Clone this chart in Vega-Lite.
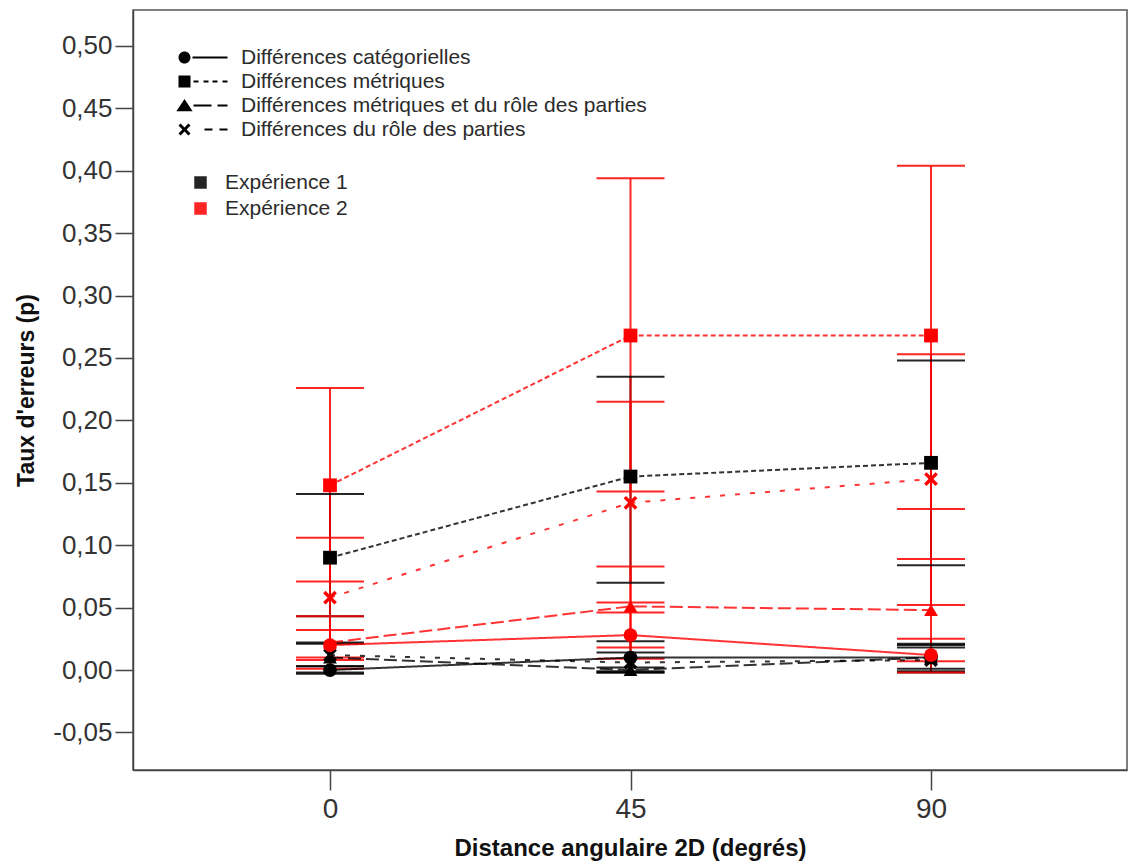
{
  "$schema": "https://vega.github.io/schema/vega-lite/v6.json",
  "width": 994,
  "height": 760,
  "autosize": {"type": "none"},
  "padding": {"left": 133, "top": 10, "right": 2, "bottom": 95},
  "background": "white",
  "config": {
    "font": "Liberation Sans",
    "view": {"stroke": "#555555", "strokeWidth": 1.5},
    "axis": {
      "grid": false,
      "domainColor": "#444444",
      "domainWidth": 1.5,
      "tickColor": "#444444",
      "tickWidth": 1.5,
      "labelColor": "#333333",
      "labelFont": "Liberation Sans",
      "titleFont": "Liberation Sans",
      "titleColor": "#111111",
      "titleFontWeight": "bold"
    },
    "legend": {
      "padding": 0,
      "labelFont": "Liberation Sans",
      "labelFontSize": 21,
      "labelColor": "#2b2b2b",
      "labelLimit": 600
    }
  },
  "data": {
    "values": [
      {"exp": "Expérience 1", "cond": "Différences catégorielles", "angle": 0, "p": 0.000, "lo": -0.003, "hi": 0.003},
      {"exp": "Expérience 1", "cond": "Différences catégorielles", "angle": 45, "p": 0.010, "lo": -0.002, "hi": 0.023},
      {"exp": "Expérience 1", "cond": "Différences catégorielles", "angle": 90, "p": 0.010, "lo": 0.001, "hi": 0.020},
      {"exp": "Expérience 1", "cond": "Différences métriques", "angle": 0, "p": 0.090, "lo": 0.043, "hi": 0.141},
      {"exp": "Expérience 1", "cond": "Différences métriques", "angle": 45, "p": 0.155, "lo": 0.070, "hi": 0.235},
      {"exp": "Expérience 1", "cond": "Différences métriques", "angle": 90, "p": 0.166, "lo": 0.084, "hi": 0.248},
      {"exp": "Expérience 1", "cond": "Différences métriques et du rôle des parties", "angle": 0, "p": 0.010, "lo": -0.002, "hi": 0.022},
      {"exp": "Expérience 1", "cond": "Différences métriques et du rôle des parties", "angle": 45, "p": 0.000, "lo": -0.002, "hi": 0.002},
      {"exp": "Expérience 1", "cond": "Différences métriques et du rôle des parties", "angle": 90, "p": 0.010, "lo": -0.001, "hi": 0.021},
      {"exp": "Expérience 1", "cond": "Différences du rôle des parties", "angle": 0, "p": 0.012, "lo": 0.003, "hi": 0.021},
      {"exp": "Expérience 1", "cond": "Différences du rôle des parties", "angle": 45, "p": 0.006, "lo": -0.001, "hi": 0.014},
      {"exp": "Expérience 1", "cond": "Différences du rôle des parties", "angle": 90, "p": 0.008, "lo": -0.002, "hi": 0.018},
      {"exp": "Expérience 2", "cond": "Différences catégorielles", "angle": 0, "p": 0.020, "lo": 0.008, "hi": 0.032},
      {"exp": "Expérience 2", "cond": "Différences catégorielles", "angle": 45, "p": 0.028, "lo": 0.009, "hi": 0.046},
      {"exp": "Expérience 2", "cond": "Différences catégorielles", "angle": 90, "p": 0.012, "lo": -0.002, "hi": 0.025},
      {"exp": "Expérience 2", "cond": "Différences métriques", "angle": 0, "p": 0.148, "lo": 0.071, "hi": 0.226},
      {"exp": "Expérience 2", "cond": "Différences métriques", "angle": 45, "p": 0.268, "lo": 0.143, "hi": 0.394},
      {"exp": "Expérience 2", "cond": "Différences métriques", "angle": 90, "p": 0.268, "lo": 0.129, "hi": 0.404},
      {"exp": "Expérience 2", "cond": "Différences métriques et du rôle des parties", "angle": 0, "p": 0.022, "lo": 0.001, "hi": 0.043},
      {"exp": "Expérience 2", "cond": "Différences métriques et du rôle des parties", "angle": 45, "p": 0.051, "lo": 0.018, "hi": 0.083},
      {"exp": "Expérience 2", "cond": "Différences métriques et du rôle des parties", "angle": 90, "p": 0.048, "lo": 0.007, "hi": 0.089},
      {"exp": "Expérience 2", "cond": "Différences du rôle des parties", "angle": 0, "p": 0.058, "lo": 0.010, "hi": 0.106},
      {"exp": "Expérience 2", "cond": "Différences du rôle des parties", "angle": 45, "p": 0.134, "lo": 0.054, "hi": 0.215},
      {"exp": "Expérience 2", "cond": "Différences du rôle des parties", "angle": 90, "p": 0.153, "lo": 0.052, "hi": 0.253}
    ]
  },
  "encoding": {
    "x": {
      "field": "angle",
      "type": "quantitative",
      "scale": {"domain": [-29.5, 119.35], "nice": false, "zero": false},
      "axis": {
        "values": [0, 45, 90],
        "title": "Distance angulaire 2D (degrés)",
        "titleFontSize": 24,
        "titlePadding": 13,
        "labelFontSize": 28,
        "labelPadding": 5,
        "tickSize": 20
      }
    }
  },
  "layer": [
    {
      "transform": [{"filter": "false"}],
      "mark": {"type": "point", "filled": true, "shape": "square", "size": 121, "opacity": 1},
      "encoding": {
        "y": {
          "field": "p",
          "type": "quantitative",
          "scale": {"domain": [-0.0801, 0.5288], "nice": false, "zero": false},
          "axis": {
            "values": [-0.05, 0, 0.05, 0.1, 0.15, 0.2, 0.25, 0.3, 0.35, 0.4, 0.45, 0.5],
            "labelExpr": "replace(replace(format(datum.value, '.2f'), '.', ','), '\u2212', '-')",
            "title": "Taux d'erreurs (p)",
            "titleFontSize": 23,
            "titlePadding": 14,
            "labelFontSize": 26,
            "labelPadding": 3,
            "tickSize": 18
          }
        },
        "color": {
          "field": "exp",
          "type": "nominal",
          "scale": {"domain": ["Expérience 1", "Expérience 2"], "range": ["#000000", "#ff0000"]},
          "legend": {
            "title": null,
            "orient": "none",
            "legendX": 57,
            "legendY": 162,
            "symbolType": "square",
            "symbolSize": 121,
            "symbolOpacity": 1,
            "labelOffset": 14,
            "rowPadding": 4
          }
        }
      }
    },
    {
      "mark": {"type": "rule", "strokeWidth": 2, "opacity": 0.85},
      "encoding": {
        "y": {"field": "lo", "type": "quantitative"},
        "y2": {"field": "hi"},
        "color": {"field": "exp", "type": "nominal"}
      }
    },
    {
      "transform": [{"fold": ["lo", "hi"], "as": ["end", "bound"]}],
      "mark": {"type": "tick", "orient": "horizontal", "size": 68, "thickness": 2, "opacity": 0.85},
      "encoding": {
        "y": {"field": "bound", "type": "quantitative"},
        "color": {"field": "exp", "type": "nominal"}
      }
    },
    {
      "mark": {"type": "line", "strokeWidth": 2, "opacity": 0.8},
      "encoding": {
        "y": {"field": "p", "type": "quantitative"},
        "color": {"field": "exp", "type": "nominal"},
        "strokeDash": {
          "field": "cond",
          "type": "nominal",
          "scale": {
            "domain": ["Différences catégorielles", "Différences métriques", "Différences métriques et du rôle des parties", "Différences du rôle des parties"],
            "range": [[1, 0], [5, 3], [13, 5], [5, 10]]
          },
          "legend": null
        }
      }
    },
    {
      "mark": {"type": "point", "filled": true, "opacity": 1, "size": 190},
      "encoding": {
        "y": {"field": "p", "type": "quantitative"},
        "shape": {
          "field": "cond",
          "type": "nominal",
          "scale": {
            "domain": ["Différences catégorielles", "Différences métriques", "Différences métriques et du rôle des parties", "Différences du rôle des parties"],
            "range": ["circle", "square", "triangle-up", "M-1,-0.65L-0.65,-1L0,-0.35L0.65,-1L1,-0.65L0.35,0L1,0.65L0.65,1L0,0.35L-0.65,1L-1,0.65L-0.35,0Z"]
          },
          "legend": null
        },
        "color": {"field": "exp", "type": "nominal"}
      }
    },
    {
      "transform": [{"filter": "false"}],
      "mark": {"type": "point", "filled": true, "color": "black", "size": 144, "opacity": 1},
      "encoding": {
        "y": {"field": "p", "type": "quantitative"},
        "shape": {
          "field": "cond",
          "type": "nominal",
          "scale": {
            "domain": ["Différences catégorielles", "Différences métriques", "Différences métriques et du rôle des parties", "Différences du rôle des parties"],
            "range": [
              "M-1,0A1,1 0 1,0 1,0A1,1 0 1,0 -1,0ZM1.33,-0.17H7.17V0.17H1.33Z",
              "M-1,-1H1V1H-1ZM1.5,-0.17H2.33V0.17H1.5ZM3.17,-0.17H4V0.17H3.17ZM4.67,-0.17H5.5V0.17H4.67ZM6.33,-0.17H7.17V0.17H6.33Z",
              "M0,-1.1L1.35,0.95H-1.35ZM1.5,-0.17H4.5V0.17H1.5ZM5.5,-0.17H7.17V0.17H5.5Z",
              "M-1,-0.65L-0.65,-1L0,-0.35L0.65,-1L1,-0.65L0.35,0L1,0.65L0.65,1L0,0.35L-0.65,1L-1,0.65L-0.35,0ZM3.33,-0.17H4.67V0.17H3.33ZM5.83,-0.17H7.17V0.17H5.83Z"
            ]
          },
          "legend": {
            "title": null,
            "orient": "none",
            "legendX": 41,
            "legendY": 37,
            "symbolSize": 144,
            "symbolFillColor": "black",
            "symbolStrokeColor": "black",
            "symbolStrokeWidth": 0,
            "symbolOpacity": 1,
            "labelOffset": 46,
            "rowPadding": 2
          }
        }
      }
    }
  ],
  "resolve": {"scale": {"shape": "independent"}}
}
